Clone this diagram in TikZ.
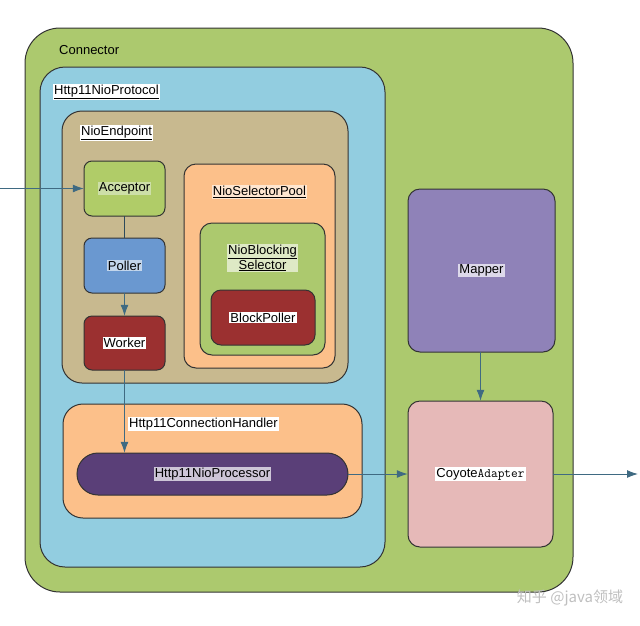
\documentclass[tikz,border=0pt]{standalone}
\usepackage{fontspec}
\setmainfont{Liberation Sans}
\newfontfamily\cjk{Noto Sans CJK SC}
\usetikzlibrary{arrows.meta}
\definecolor{cgreen}{HTML}{ACC96E}
\definecolor{cblue}{HTML}{92CDE0}
\definecolor{ctan}{HTML}{C8B98F}
\definecolor{cpeach}{HTML}{FCC08A}
\definecolor{cpoller}{HTML}{6A98D0}
\definecolor{cred}{HTML}{9B3030}
\definecolor{cpurple}{HTML}{5A3F78}
\definecolor{cmapper}{HTML}{8F82B8}
\definecolor{cpink}{HTML}{E6B9B8}
\definecolor{carrow}{HTML}{3F6A82}
\tikzset{
  box/.style={draw=black!80, line width=1pt, rounded corners=#1},
  box/.default=8pt,
  lab/.style={fill=white, inner sep=1pt, font=\fontsize{13}{15}\selectfont},
  conn/.style={draw=carrow, line width=1pt, -{Latex[length=11pt,width=8pt]}},
  plain/.style={draw=carrow!70!black, line width=1pt}
}
\newcommand{\ul}[1]{\underline{#1}}
\begin{document}
\begin{tikzpicture}[x=1pt,y=-1pt]
\useasboundingbox (0,0) rectangle (640,625);
\filldraw[box=35pt, fill=cgreen] (25,28) rectangle (573,592);
\node[anchor=west, lab, fill=none] (connl) at (58,50) {Connector};
\filldraw[box=25pt, fill=cblue] (40,67) rectangle (385,567);
\node[anchor=west, lab] (protl) at (53,92) {\ul{Http11NioProtocol}};
\filldraw[box=20pt, fill=ctan] (62,111) rectangle (348,383);
\node[anchor=west, lab] (endl) at (80,133) {\ul{NioEndpoint}};
\filldraw[box, fill=cgreen!95!yellow] (84,161) rectangle (165,216);
\node[draw=none, minimum width=81pt, minimum height=55pt] (acc) at (124.5,188.5) {};
\node[lab, fill=cgreen!60!white] at (acc) {Acceptor};
\filldraw[box, fill=cpoller] (84,238) rectangle (165,293);
\node[draw=none, minimum width=81pt, minimum height=55pt] (pol) at (124.5,265.5) {};
\node[lab, fill=cpoller!40!white] at (pol) {Poller};
\filldraw[box, fill=cred] (84,316) rectangle (165,370);
\node[draw=none, minimum width=81pt, minimum height=54pt] (wor) at (124.5,343) {};
\node[lab] at (wor) {Worker};
\filldraw[box=12pt, fill=cpeach] (184,164) rectangle (335,368);
\node[lab, fill=cpeach!40!white] (poolt) at (259.5,192) {\ul{NioSelectorPool}};
\filldraw[box=12pt, fill=cgreen] (200,223) rectangle (325,355);
\node[lab, fill=cgreen!40!white, align=center] (nbs) at (262.5,258) {\ul{NioBlocking}\\\ul{Selector}};
\filldraw[box=10pt, fill=cred] (211,290) rectangle (315,345);
\node[lab] (bp) at (263,317.5) {BlockPoller};
\filldraw[box=20pt, fill=cpeach] (63,404) rectangle (362,518);
\node[anchor=west, lab] (hdl) at (128,424) {Http11ConnectionHandler};
\filldraw[box=21pt, fill=cpurple] (77,453) rectangle (348,495);
\node[draw=none, minimum width=271pt, minimum height=42pt] (proc) at (212.5,474) {};
\node[lab, fill=cpurple!30!white] at (proc) {Http11NioProcessor};
\filldraw[box=12pt, fill=cmapper] (408,189) rectangle (555,352);
\node[draw=none, minimum width=147pt, minimum height=163pt] (map) at (481.5,270.5) {};
\node[lab, fill=cmapper!30!white] at (map) {Mapper};
\filldraw[box=12pt, fill=cpink] (408,401) rectangle (553,547);
\node[draw=none, minimum width=145pt, minimum height=146pt] (coy) at (480.5,474) {};
\node[lab] at (coy) {Coyote{\ttfamily Adapter}};
\coordinate (in) at (0,188.5);
\coordinate (out) at (638,474);
\draw[conn] (in) -- (acc.west);
\draw[plain] (acc.south) -- (pol.north);
\draw[conn] (pol.south) -- (wor.north);
\draw[conn] (wor.south) -- (proc.north -| wor.south);
\draw[conn] (proc.east) -- (coy.west);
\draw[conn] (map.south -| coy.north) -- (coy.north);
\draw[conn] (coy.east) -- (out);
\node[text=black!25, font=\cjk\fontsize{15}{16}\selectfont] (wm) at (570,598) {知乎 @java领域};
\end{tikzpicture}
\end{document}
